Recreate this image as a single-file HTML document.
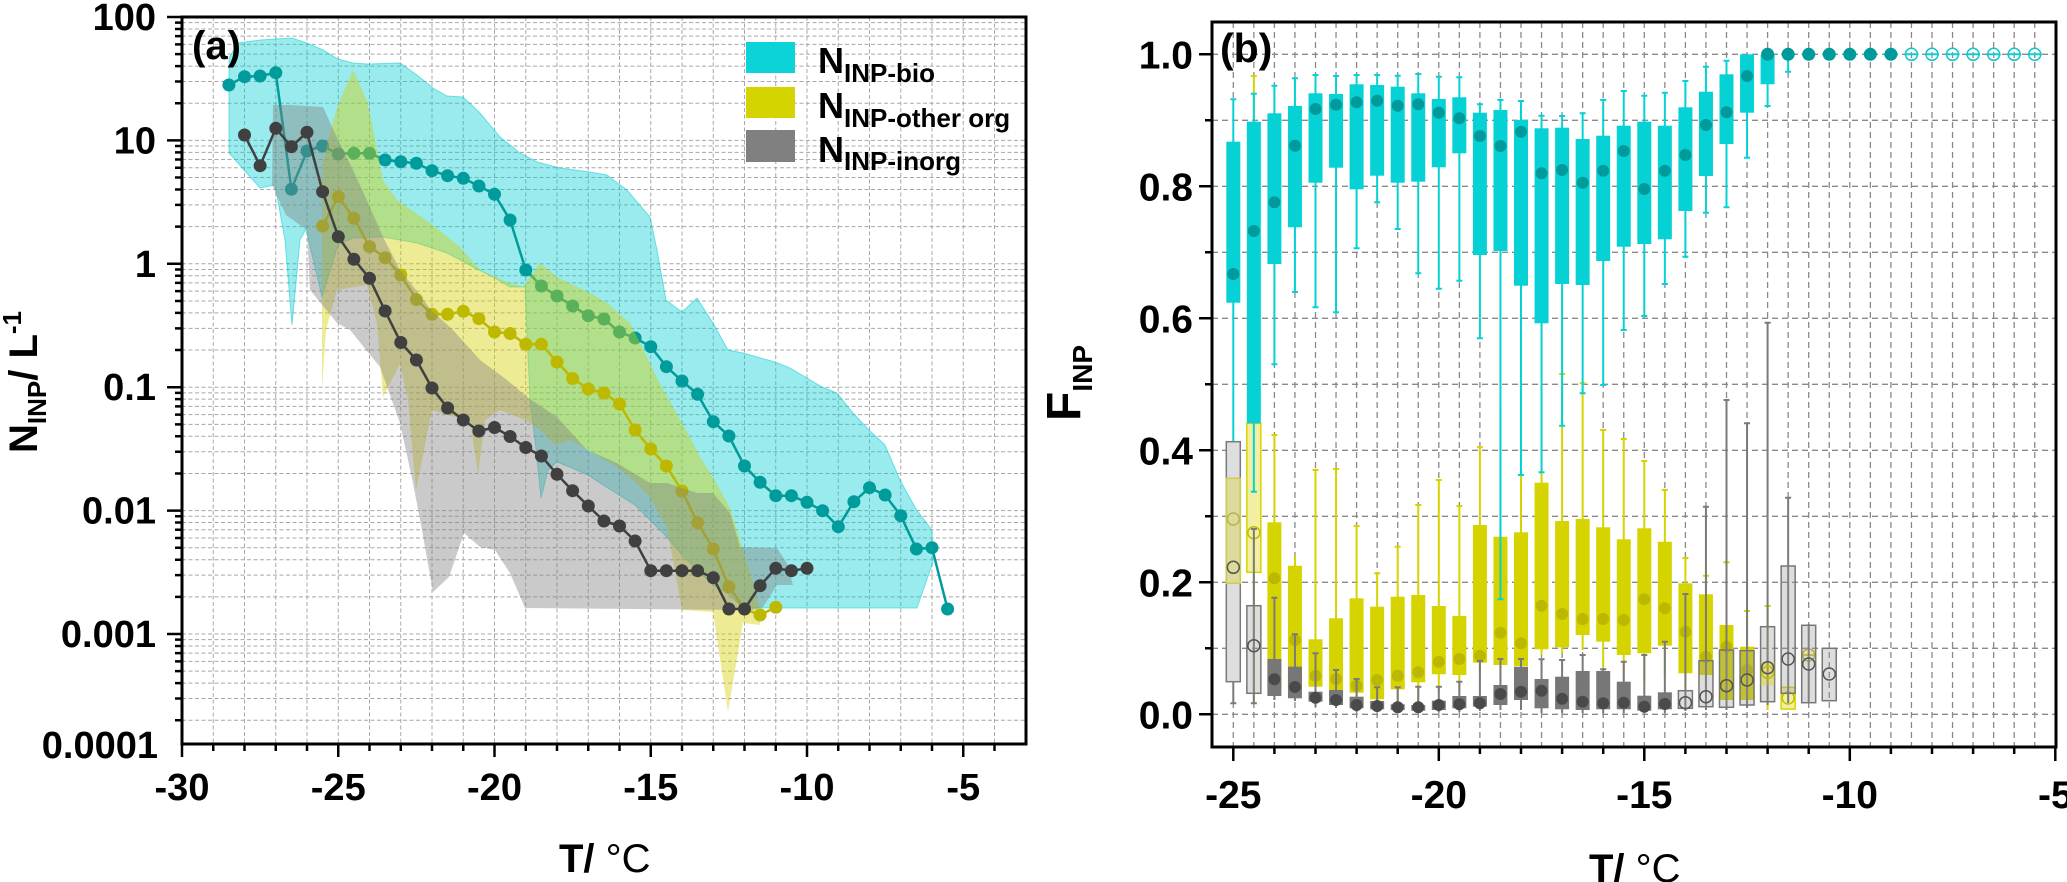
<!DOCTYPE html>
<html><head><meta charset="utf-8"><style>html,body{margin:0;padding:0;background:#fff}svg{display:block}</style></head>
<body>
<svg width="2067" height="882" viewBox="0 0 2067 882" xmlns="http://www.w3.org/2000/svg" font-family="'Liberation Sans', Arial, sans-serif">
<defs>
<marker id="mT" viewBox="0 0 14 14" refX="7" refY="7" markerWidth="14" markerHeight="14" markerUnits="userSpaceOnUse"><circle cx="7" cy="7" r="6.5" fill="#009b9b"/></marker>
<marker id="mY" viewBox="0 0 14 14" refX="7" refY="7" markerWidth="14" markerHeight="14" markerUnits="userSpaceOnUse"><circle cx="7" cy="7" r="6.5" fill="#bdb900"/></marker>
<marker id="mG" viewBox="0 0 14 14" refX="7" refY="7" markerWidth="14" markerHeight="14" markerUnits="userSpaceOnUse"><circle cx="7" cy="7" r="6.5" fill="#404040"/></marker>
</defs>
<rect width="2067" height="882" fill="#fff"/>

<!-- ============ PANEL A ============ -->
<g stroke="#a8a8a8" stroke-width="1" stroke-dasharray="4 2.5" fill="none">
<path d="M182 22.65H1026M182 28.96H1026M182 36.12H1026M182 44.38H1026M182 54.15H1026M182 66.11H1026M182 81.52H1026M182 103.26H1026M182 140.4H1026M182 146.05H1026M182 152.36H1026M182 159.52H1026M182 167.78H1026M182 177.55H1026M182 189.51H1026M182 204.92H1026M182 226.66H1026M182 263.8H1026M182 269.45H1026M182 275.76H1026M182 282.92H1026M182 291.18H1026M182 300.95H1026M182 312.91H1026M182 328.32H1026M182 350.06H1026M182 387.2H1026M182 392.85H1026M182 399.16H1026M182 406.32H1026M182 414.58H1026M182 424.35H1026M182 436.31H1026M182 451.72H1026M182 473.46H1026M182 510.6H1026M182 516.25H1026M182 522.56H1026M182 529.72H1026M182 537.98H1026M182 547.75H1026M182 559.71H1026M182 575.12H1026M182 596.86H1026M182 634H1026M182 639.65H1026M182 645.96H1026M182 653.12H1026M182 661.38H1026M182 671.15H1026M182 683.11H1026M182 698.52H1026M182 720.26H1026"/>
<path d="M213.25 17V744M244.5 17V744M275.75 17V744M307 17V744M338.25 17V744M369.5 17V744M400.75 17V744M432 17V744M463.25 17V744M494.5 17V744M525.75 17V744M557 17V744M588.25 17V744M619.5 17V744M650.75 17V744M682 17V744M713.25 17V744M744.5 17V744M775.75 17V744M807 17V744M838.25 17V744M869.5 17V744M900.75 17V744M932 17V744M963.25 17V744M994.5 17V744"/>
</g>

<!-- bio fill + line -->
<polygon fill="#00ced1" fill-opacity="0.4" stroke="#00ced1" stroke-opacity="0.5" stroke-width="1" points="229,58 238,43 260,40 275,39 292,38 307,43 323,50 338,59 353,63 368,64 400,63 417,75 433,88 447,96 463,97 480,113 500,137 520,153 537,162 560,168 590,172 607,175 627,190 650,217 657,250 666,300 682,312 697,298 713,323 728,350 743,353 775,362 790,368 822,387 837,393 853,413 869,430 885,445 900,480 916,509 932,530 933,562 917,608 743,608 730,595 713,585 697,570 682,555 665,535 650,520 635,505 619,495 603,485 588,475 572,468 557,462 548,470 541,498 535,440 530,400 525,287 510,287 493,277 473,267 447,253 417,243 383,237 353,238 338,245 322,297 306,229 300,240 292,325 285,240 275,185 260,188 229,153"/>
<polyline fill="none" stroke="#009b9b" stroke-width="2.5" marker-start="url(#mT)" marker-mid="url(#mT)" marker-end="url(#mT)" points="228.9,85 244.5,76.7 260.1,76 275.8,72.7 291.4,189.3 307,151 322.6,146 338.3,154 353.9,153.3 369.5,153.3 385.1,160 400.8,161.7 416.4,163.3 432,170.7 447.6,175.7 463.3,178.3 478.9,186 494.5,194.3 510.1,220 525.8,270 541.4,286 557,296 572.6,306 588.3,315.7 603.9,319 619.5,332 635.1,338 650.8,346.7 666.4,366.7 682,381 697.6,394.3 713.3,421.7 728.9,436 744.5,466 760.1,482.3 775.8,495.7 791.4,495.7 807,502.3 822.6,510.7 838.3,526.7 853.9,501.7 869.5,487.7 885.1,495 900.8,515.7 916.4,549 932,547.7 947.6,609"/>

<!-- other org fill + line -->
<polygon fill="#d4d000" fill-opacity="0.42" points="322,165 332,125 338,105 353,70 368,103 383,180 397,200 430,223 460,247 480,270 507,282 523,287 540,263 557,277 590,293 607,303 630,323 647,357 657,378 673,407 690,437 700,457 713,477 730,508 740,540 753,583 760,610 760,625 743,623 728,712 713,612 682,610 667,527 650,497 633,480 617,467 588,450 570,440 555,445 540,430 525,420 500,410 485,420 478,474 470,420 447,415 432,410 416,490 408,400 400,364 383,397 377,323 367,285 337,290 326,330 322,389"/>
<polyline fill="none" stroke="#bdb900" stroke-width="2.5" marker-start="url(#mY)" marker-mid="url(#mY)" marker-end="url(#mY)" points="322.6,226 338.3,196.7 353.9,218.3 369.5,246.7 385.1,257.7 400.8,275 416.4,299.5 432,314.3 447.6,314.3 463.3,311.3 478.9,318.7 494.5,332 510.1,333.5 525.8,344.3 541.4,344.3 557,362 572.6,378.5 588.3,389 603.9,393 619.5,404 635.1,430 650.8,449 666.4,466 682,491 697.6,522.7 713.3,549 728.9,586.7 744.5,609 760.1,615 775.8,607.3"/>

<!-- inorg fill + line -->
<polygon fill="#808080" fill-opacity="0.42" points="272,185 273,105 290,105 323,107 338,140 353,170 369,205 383,237 400,270 416,290 431,310 453,330 480,360 507,380 527,397 557,417 587,450 617,463 650,483 667,483 697,493 713,493 730,513 740,547 777,548 787,563 793,585 777,585 763,607 753,610 525,608 510,573 495,550 480,547 464,533 449,577 433,592 422,530 413,483 400,423 380,367 350,330 337,323 310,290 307,230 286,215"/>
<polyline fill="none" stroke="#404040" stroke-width="2.5" marker-start="url(#mG)" marker-mid="url(#mG)" marker-end="url(#mG)" points="244.5,135 260.1,165.7 275.8,128.3 291.4,146.7 307,132.3 322.6,191.7 338.3,236.7 353.9,259.3 369.5,278.3 385.1,311 400.8,342.5 416.4,360 432,388 447.6,408 463.3,420 478.9,431 494.5,427.5 510.1,436.5 525.8,447.5 541.4,456 557,474.3 572.6,490.7 588.3,506 603.9,521 619.5,526 635.1,541 650.8,570.7 666.4,570.7 682,570.7 697.6,570.7 713.3,577.7 728.9,609 744.5,609 760.1,585.7 775.8,568.3 791.4,570.7 807,568.3"/>

<!-- legend -->
<rect x="746" y="42" width="49" height="31" fill="#0bd3d8"/>
<rect x="746" y="87" width="49" height="31" fill="#d4d400"/>
<rect x="746" y="130" width="49" height="32" fill="#808080"/>
<g font-weight="bold" fill="#000">
<text x="818" y="73" font-size="36">N<tspan font-size="26" dy="9">INP-bio</tspan></text>
<text x="818" y="118" font-size="36">N<tspan font-size="26" dy="9">INP-other org</tspan></text>
<text x="818" y="162" font-size="36">N<tspan font-size="26" dy="8">INP-inorg</tspan></text>
</g>

<!-- frame & ticks A -->
<rect x="182" y="17" width="844" height="727" fill="none" stroke="#000" stroke-width="3"/>
<path stroke="#000" stroke-width="2.5" fill="none" d="M182 744v13M213.25 744v7M244.5 744v7M275.75 744v7M307 744v7M338.25 744v13M369.5 744v7M400.75 744v7M432 744v7M463.25 744v7M494.5 744v13M525.75 744v7M557 744v7M588.25 744v7M619.5 744v7M650.75 744v13M682 744v7M713.25 744v7M744.5 744v7M775.75 744v7M807 744v13M838.25 744v7M869.5 744v7M900.75 744v7M932 744v7M963.25 744v13M994.5 744v7
M182 17h-15M182 140.4h-15M182 263.8h-15M182 387.2h-15M182 510.6h-15M182 634h-15
M182 22.65h-7M182 28.96h-7M182 36.12h-7M182 44.38h-7M182 54.15h-7M182 66.11h-7M182 81.52h-7M182 103.26h-7
M182 146.05h-7M182 152.36h-7M182 159.52h-7M182 167.78h-7M182 177.55h-7M182 189.51h-7M182 204.92h-7M182 226.66h-7
M182 269.45h-7M182 275.76h-7M182 282.92h-7M182 291.18h-7M182 300.95h-7M182 312.91h-7M182 328.32h-7M182 350.06h-7
M182 392.85h-7M182 399.16h-7M182 406.32h-7M182 414.58h-7M182 424.35h-7M182 436.31h-7M182 451.72h-7M182 473.46h-7
M182 516.25h-7M182 522.56h-7M182 529.72h-7M182 537.98h-7M182 547.75h-7M182 559.71h-7M182 575.12h-7M182 596.86h-7
M182 639.65h-7M182 645.96h-7M182 653.12h-7M182 661.38h-7M182 671.15h-7M182 683.11h-7M182 698.52h-7M182 720.26h-7"/>

<g font-weight="bold" font-size="38" fill="#000" text-anchor="end">
<text x="156" y="30">100</text>
<text x="156" y="153.4">10</text>
<text x="156" y="276.8">1</text>
<text x="156" y="400.2">0.1</text>
<text x="156" y="523.6">0.01</text>
<text x="156" y="647">0.001</text>
<text x="158" y="758">0.0001</text>
</g>
<g font-weight="bold" font-size="38" fill="#000" text-anchor="middle">
<text x="182" y="800">-30</text>
<text x="338.25" y="800">-25</text>
<text x="494.5" y="800">-20</text>
<text x="650.75" y="800">-15</text>
<text x="807" y="800">-10</text>
<text x="963.25" y="800">-5</text>
</g>
<text x="192" y="59" font-size="40" font-weight="bold">(a)</text>
<text x="559" y="872" font-size="40" font-weight="bold">T/ <tspan font-weight="normal">°C</tspan></text>
<text transform="translate(37,382) rotate(-90)" text-anchor="middle" font-size="40" font-weight="bold">N<tspan font-size="26" dy="9">INP</tspan><tspan dy="-9">/ L</tspan><tspan font-size="26" dy="-16">-1</tspan></text>

<!-- ============ PANEL B ============ -->
<g stroke="#8a8a8a" stroke-width="1.3" stroke-dasharray="6 4" fill="none">
<path d="M1212 54.3H2056M1212 120.3H2056M1212 186.3H2056M1212 252.3H2056M1212 318.3H2056M1212 384.3H2056M1212 450.3H2056M1212 516.3H2056M1212 582.3H2056M1212 648.3H2056M1212 714.3H2056"/>
<path d="M1233.3 22V747M1253.85 22V747M1274.4 22V747M1294.95 22V747M1315.5 22V747M1336.05 22V747M1356.6 22V747M1377.15 22V747M1397.7 22V747M1418.25 22V747M1438.8 22V747M1459.35 22V747M1479.9 22V747M1500.45 22V747M1521 22V747M1541.55 22V747M1562.1 22V747M1582.65 22V747M1603.2 22V747M1623.75 22V747M1644.3 22V747M1664.85 22V747M1685.4 22V747M1705.95 22V747M1726.5 22V747M1747.05 22V747M1767.6 22V747M1788.15 22V747M1808.7 22V747M1829.25 22V747M1849.8 22V747M1870.35 22V747M1890.9 22V747M1911.45 22V747M1932 22V747M1952.55 22V747M1973.1 22V747M1993.65 22V747M2014.2 22V747M2034.75 22V747"/>
</g>

<!-- yellow (other org) -->
<g>
<path stroke="#d6d400" stroke-width="2" fill="none" d="M1253.85 76V703M1274.4 435V700M1294.95 556V700M1315.5 470V705M1336.05 469V708M1356.6 526V708M1377.15 573.3V708M1397.7 546.7V705M1418.25 505V705M1438.8 480V691M1459.35 506V690M1479.9 447.3V675M1500.45 405V680M1521 415V680M1541.55 420V655M1562.1 374V653.3M1582.65 383.3V650M1603.2 430V670M1623.75 439V678.3M1644.3 461V681.7M1664.85 490V676.7M1685.4 558V688.3M1705.95 575.7V688M1726.5 562.3V700M1747.05 611V705M1767.6 606V710
M1250.85 76h6M1271.4 435h6M1312.5 470h6M1333.05 469h6M1353.6 526h6M1374.15 573.3h6M1394.7 546.7h6M1415.25 505h6M1435.8 480h6M1456.35 506h6M1476.9 447.3h6M1559.1 374h6M1579.65 383.3h6M1600.2 430h6M1620.75 439h6M1641.3 461h6M1661.85 490h6M1682.4 558h6M1702.95 575.7h6M1723.5 562.3h6M1744.05 611h6M1764.6 606h6"/>
<g fill="#d6d400">
<rect x="1267.4" y="522.3" width="14" height="167.7"/>
<rect x="1287.95" y="565.7" width="14" height="124.3"/>
<rect x="1308.5" y="639.3" width="14" height="47.4"/>
<rect x="1329.05" y="618.3" width="14" height="73.7"/>
<rect x="1349.6" y="598.3" width="14" height="94.4"/>
<rect x="1370.15" y="606.7" width="14" height="92.6"/>
<rect x="1390.7" y="596.7" width="14" height="92.6"/>
<rect x="1411.25" y="595" width="14" height="87.3"/>
<rect x="1431.8" y="606" width="14" height="68.3"/>
<rect x="1452.35" y="616" width="14" height="59"/>
<rect x="1472.9" y="525" width="14" height="137.7"/>
<rect x="1493.45" y="536.7" width="14" height="128.3"/>
<rect x="1514" y="532.3" width="14" height="133.7"/>
<rect x="1534.55" y="482.7" width="14" height="166.6"/>
<rect x="1555.1" y="521" width="14" height="126.3"/>
<rect x="1575.65" y="519" width="14" height="116"/>
<rect x="1596.2" y="527.3" width="14" height="114.4"/>
<rect x="1616.75" y="539.3" width="14" height="115.7"/>
<rect x="1637.3" y="528.3" width="14" height="125"/>
<rect x="1657.85" y="541.7" width="14" height="104"/>
<rect x="1678.4" y="583.3" width="14" height="90"/>
<rect x="1698.95" y="594.3" width="14" height="80.7"/>
<rect x="1719.5" y="625" width="14" height="75"/>
<rect x="1740.05" y="646.7" width="14" height="53.3"/>
</g>
<g fill="#bcb800">
<circle cx="1274.4" cy="578.3" r="6"/><circle cx="1294.95" cy="640" r="6"/><circle cx="1315.5" cy="675.7" r="6"/><circle cx="1336.05" cy="679" r="6"/><circle cx="1356.6" cy="685.7" r="6"/><circle cx="1377.15" cy="680" r="6"/><circle cx="1397.7" cy="675.7" r="6"/><circle cx="1418.25" cy="672.3" r="6"/><circle cx="1438.8" cy="661.7" r="6"/><circle cx="1459.35" cy="659" r="6"/><circle cx="1479.9" cy="655.7" r="6"/><circle cx="1500.45" cy="632.7" r="6"/><circle cx="1521" cy="643.3" r="6"/><circle cx="1541.55" cy="605.7" r="6"/><circle cx="1562.1" cy="614" r="6"/><circle cx="1582.65" cy="619" r="6"/><circle cx="1603.2" cy="619" r="6"/><circle cx="1623.75" cy="620" r="6"/><circle cx="1644.3" cy="599.3" r="6"/><circle cx="1664.85" cy="608.3" r="6"/><circle cx="1685.4" cy="631.7" r="6"/><circle cx="1705.95" cy="656.7" r="6"/><circle cx="1726.5" cy="646.7" r="6"/><circle cx="1747.05" cy="670" r="6"/>
</g>
<rect x="1246.85" y="423.3" width="14" height="149" fill="#f3efa2" stroke="#d6d400" stroke-width="1.5"/>
<circle cx="1253.85" cy="532.7" r="6" fill="none" stroke="#c2be00" stroke-width="1.5"/>
<rect x="1781.15" y="687.3" width="14" height="21.7" fill="#f3efa2" stroke="#d6d400" stroke-width="1.5"/>
<circle cx="1788.15" cy="698" r="6" fill="none" stroke="#c2be00" stroke-width="1.5"/>
<path d="M1801.7 655h14" stroke="#d6d400" stroke-width="2"/>
<circle cx="1808.7" cy="655" r="6" fill="none" stroke="#c2be00" stroke-width="1.5"/>
</g>

<!-- cyan (bio) -->
<g>
<path stroke="#06d2d6" stroke-width="2" fill="none" d="M1233.3 99.3V473M1253.85 93.7V491.7M1274.4 85.7V364.3M1294.95 78.3V292M1315.5 75V307.3M1336.05 76V312.3M1356.6 75V248.3M1377.15 75V202.3M1397.7 75.7V229M1418.25 74V273.3M1438.8 76.7V288.7M1459.35 77.3V280.7M1479.9 104.3V338.3M1500.45 100V599.3M1521 101V475M1541.55 115.7V472.3M1562.1 116V425.7M1582.65 113.3V393.3M1603.2 100V385M1623.75 91V330M1644.3 95.7V316M1664.85 92.7V284M1685.4 81V256.7M1705.95 66.7V212.7M1726.5 60.7V207.3M1747.05 54.3V157.7M1767.6 54.3V106M1788.15 54.3V71.7
M1230.3 99.3h6M1230.3 473h6M1250.85 93.7h6M1250.85 491.7h6M1271.4 85.7h6M1271.4 364.3h6M1291.95 78.3h6M1291.95 292h6M1312.5 75h6M1312.5 307.3h6M1333.05 76h6M1333.05 312.3h6M1353.6 75h6M1353.6 248.3h6M1374.15 75h6M1374.15 202.3h6M1394.7 75.7h6M1394.7 229h6M1415.25 74h6M1415.25 273.3h6M1435.8 76.7h6M1435.8 288.7h6M1456.35 77.3h6M1456.35 280.7h6M1476.9 104.3h6M1476.9 338.3h6M1497.45 100h6M1497.45 599.3h6M1518 101h6M1518 475h6M1538.55 115.7h6M1538.55 472.3h6M1559.1 116h6M1559.1 425.7h6M1579.65 113.3h6M1579.65 393.3h6M1600.2 100h6M1600.2 385h6M1620.75 91h6M1620.75 330h6M1641.3 95.7h6M1641.3 316h6M1661.85 92.7h6M1661.85 284h6M1682.4 81h6M1682.4 256.7h6M1702.95 66.7h6M1702.95 212.7h6M1723.5 60.7h6M1723.5 207.3h6M1744.05 157.7h6M1764.6 106h6M1785.15 71.7h6
M1781.15 54.3h14M1801.7 54.3h14M1822.25 54.3h14M1842.8 54.3h14M1863.35 54.3h14M1883.9 54.3h14M1904.45 54.3h14M1925 54.3h14M1945.55 54.3h14M1966.1 54.3h14M1986.65 54.3h14M2007.2 54.3h14M2027.75 54.3h14"/>
<g fill="#06d2d6">
<rect x="1226.3" y="141.7" width="14" height="161"/>
<rect x="1246.85" y="121.7" width="14" height="301.6"/>
<rect x="1267.4" y="113.3" width="14" height="150.7"/>
<rect x="1287.95" y="106" width="14" height="121.3"/>
<rect x="1308.5" y="93.3" width="14" height="89.4"/>
<rect x="1329.05" y="94" width="14" height="73.7"/>
<rect x="1349.6" y="84.3" width="14" height="105"/>
<rect x="1370.15" y="85" width="14" height="90.7"/>
<rect x="1390.7" y="86.7" width="14" height="96"/>
<rect x="1411.25" y="93.3" width="14" height="88.4"/>
<rect x="1431.8" y="99" width="14" height="68.3"/>
<rect x="1452.35" y="97.3" width="14" height="56"/>
<rect x="1472.9" y="112.7" width="14" height="142.3"/>
<rect x="1493.45" y="110" width="14" height="141"/>
<rect x="1514" y="120" width="14" height="165.7"/>
<rect x="1534.55" y="128.3" width="14" height="195"/>
<rect x="1555.1" y="127.7" width="14" height="156.3"/>
<rect x="1575.65" y="139" width="14" height="146"/>
<rect x="1596.2" y="135.7" width="14" height="125.3"/>
<rect x="1616.75" y="125.7" width="14" height="121"/>
<rect x="1637.3" y="121.7" width="14" height="122.3"/>
<rect x="1657.85" y="125.7" width="14" height="113.6"/>
<rect x="1678.4" y="107.3" width="14" height="103.7"/>
<rect x="1698.95" y="91.7" width="14" height="84.3"/>
<rect x="1719.5" y="74.3" width="14" height="69.7"/>
<rect x="1740.05" y="54.3" width="14" height="58.4"/>
<rect x="1760.6" y="55" width="14" height="29.3"/>
</g>
<g fill="#009a9a">
<circle cx="1233.3" cy="274" r="6"/><circle cx="1253.85" cy="231" r="6"/><circle cx="1274.4" cy="202.3" r="6"/><circle cx="1294.95" cy="145.7" r="6"/><circle cx="1315.5" cy="109" r="6"/><circle cx="1336.05" cy="104.7" r="6"/><circle cx="1356.6" cy="102.3" r="6"/><circle cx="1377.15" cy="100.7" r="6"/><circle cx="1397.7" cy="105.7" r="6"/><circle cx="1418.25" cy="104.3" r="6"/><circle cx="1438.8" cy="112.7" r="6"/><circle cx="1459.35" cy="118.3" r="6"/><circle cx="1479.9" cy="136" r="6"/><circle cx="1500.45" cy="146" r="6"/><circle cx="1521" cy="131.7" r="6"/><circle cx="1541.55" cy="173.3" r="6"/><circle cx="1562.1" cy="170" r="6"/><circle cx="1582.65" cy="182.7" r="6"/><circle cx="1603.2" cy="170.7" r="6"/><circle cx="1623.75" cy="151" r="6"/><circle cx="1644.3" cy="189" r="6"/><circle cx="1664.85" cy="170.7" r="6"/><circle cx="1685.4" cy="155" r="6"/><circle cx="1705.95" cy="125" r="6"/><circle cx="1726.5" cy="112.3" r="6"/><circle cx="1747.05" cy="76" r="6"/>
<circle cx="1767.6" cy="54.3" r="6.5"/><circle cx="1788.15" cy="54.3" r="6.5"/><circle cx="1808.7" cy="54.3" r="6.5"/><circle cx="1829.25" cy="54.3" r="6.5"/><circle cx="1849.8" cy="54.3" r="6.5"/><circle cx="1870.35" cy="54.3" r="6.5"/><circle cx="1890.9" cy="54.3" r="6.5"/>
</g>
<g fill="none" stroke="#16c6ca" stroke-width="1.5">
<circle cx="1911.45" cy="54.3" r="6"/><circle cx="1932" cy="54.3" r="6"/><circle cx="1952.55" cy="54.3" r="6"/><circle cx="1973.1" cy="54.3" r="6"/><circle cx="1993.65" cy="54.3" r="6"/><circle cx="2014.2" cy="54.3" r="6"/><circle cx="2034.75" cy="54.3" r="6"/>
</g>
</g>

<!-- gray (inorg) -->
<g>
<rect x="1226.3" y="441.7" width="14" height="240" fill="#dedede" stroke="#7a7a7a" stroke-width="1.5"/>
<rect x="1226.3" y="478.3" width="14" height="105" fill="#d6d400" fill-opacity="0.3" stroke="#cfcb50" stroke-width="1.5"/>
<circle cx="1233.3" cy="519" r="6" fill="none" stroke="#b8b450" stroke-width="1.5"/>
<circle cx="1233.3" cy="567.3" r="6" fill="none" stroke="#555" stroke-width="1.5"/>
<path stroke="#7a7a7a" stroke-width="2" fill="none" d="M1233.3 681.7V703.3M1253.85 529V703.3M1274.4 597.7V700M1294.95 634.3V701M1315.5 653.3V707M1336.05 670V708M1356.6 679V712M1377.15 687.3V712M1397.7 687.3V712M1418.25 686.7V712M1438.8 686.7V712M1459.35 681.7V712M1479.9 661V711M1500.45 659V710M1521 659V710M1541.55 659.3V713M1562.1 660V713M1582.65 655V713M1603.2 669.3V713M1623.75 661.7V713M1644.3 655V713M1664.85 641.7V713M1685.4 594V711M1705.95 506.7V710M1726.5 400V710M1747.05 423.3V708M1767.6 322.7V705M1788.15 497.7V703M1808.7 624V703
M1230.3 703.3h6M1250.85 529h6M1250.85 703.3h6M1271.4 597.7h6M1291.95 634.3h6M1312.5 653.3h6M1333.05 670h6M1353.6 679h6M1374.15 687.3h6M1394.7 687.3h6M1415.25 686.7h6M1435.8 686.7h6M1456.35 681.7h6M1476.9 661h6M1497.45 659h6M1518 659h6M1538.55 659.3h6M1559.1 660h6M1579.65 655h6M1600.2 669.3h6M1620.75 661.7h6M1641.3 655h6M1661.85 641.7h6M1682.4 594h6M1702.95 506.7h6M1723.5 400h6M1744.05 423.3h6M1764.6 322.7h6M1785.15 497.7h6"/>
<g fill="#777">
<rect x="1267.4" y="659" width="14" height="37"/>
<rect x="1287.95" y="666.7" width="14" height="31.6"/>
<rect x="1308.5" y="691.7" width="14" height="10"/>
<rect x="1329.05" y="690" width="14" height="15"/>
<rect x="1349.6" y="696.7" width="14" height="11.6"/>
<rect x="1370.15" y="701" width="14" height="8.3"/>
<rect x="1390.7" y="704.3" width="14" height="5.7"/>
<rect x="1411.25" y="705" width="14" height="5.7"/>
<rect x="1431.8" y="700.7" width="14" height="9.3"/>
<rect x="1452.35" y="696" width="14" height="12.3"/>
<rect x="1472.9" y="696" width="14" height="10.7"/>
<rect x="1493.45" y="685" width="14" height="20"/>
<rect x="1514" y="666.7" width="14" height="33.3"/>
<rect x="1534.55" y="679" width="14" height="29.3"/>
<rect x="1555.1" y="676.7" width="14" height="32.6"/>
<rect x="1575.65" y="671" width="14" height="39"/>
<rect x="1596.2" y="671" width="14" height="38.3"/>
<rect x="1616.75" y="681.7" width="14" height="27.6"/>
<rect x="1637.3" y="695.7" width="14" height="15"/>
<rect x="1657.85" y="692.3" width="14" height="17"/>
</g>
<g fill="#4a4a4a">
<circle cx="1274.4" cy="679.3" r="6"/><circle cx="1294.95" cy="687" r="6"/><circle cx="1315.5" cy="697.7" r="6"/><circle cx="1336.05" cy="700" r="6"/><circle cx="1356.6" cy="705" r="6"/><circle cx="1377.15" cy="706" r="6"/><circle cx="1397.7" cy="707.3" r="6"/><circle cx="1418.25" cy="707.3" r="6"/><circle cx="1438.8" cy="705" r="6"/><circle cx="1459.35" cy="704.3" r="6"/><circle cx="1479.9" cy="703.3" r="6"/><circle cx="1500.45" cy="694" r="6"/><circle cx="1521" cy="691.7" r="6"/><circle cx="1541.55" cy="690.7" r="6"/><circle cx="1562.1" cy="698.7" r="6"/><circle cx="1582.65" cy="701.7" r="6"/><circle cx="1603.2" cy="703.3" r="6"/><circle cx="1623.75" cy="702.7" r="6"/><circle cx="1644.3" cy="706.7" r="6"/><circle cx="1664.85" cy="704" r="6"/>
</g>
<g fill="#969696" fill-opacity="0.32" stroke="#777" stroke-width="1.5">
<rect x="1246.85" y="605.7" width="14" height="87.6"/>
<rect x="1678.4" y="690.7" width="14" height="17.6"/>
<rect x="1698.95" y="660.7" width="14" height="46"/>
<rect x="1719.5" y="650" width="14" height="57.3"/>
<rect x="1740.05" y="650.7" width="14" height="54.3"/>
<rect x="1760.6" y="626.7" width="14" height="75"/>
<rect x="1781.15" y="566" width="14" height="127.3"/>
<rect x="1801.7" y="625.3" width="14" height="77.4"/>
<rect x="1822.25" y="648.3" width="14" height="52.4"/>
</g>
<rect x="1760.6" y="661.7" width="14" height="24" fill="#d6d400" fill-opacity="0.35"/>
<circle cx="1767.6" cy="672.3" r="6" fill="none" stroke="#c2be00" stroke-width="1.5"/>
<g fill="none" stroke="#555" stroke-width="1.5">
<circle cx="1253.85" cy="645.7" r="6"/><circle cx="1685.4" cy="702.7" r="6"/><circle cx="1705.95" cy="696.7" r="6"/><circle cx="1726.5" cy="685.7" r="6"/><circle cx="1747.05" cy="680" r="6"/><circle cx="1767.6" cy="667.7" r="6"/><circle cx="1788.15" cy="659" r="6"/><circle cx="1808.7" cy="664" r="6"/><circle cx="1829.25" cy="674" r="6"/>
</g>
</g>

<!-- frame & ticks B -->
<rect x="1212" y="22" width="844" height="725" fill="none" stroke="#000" stroke-width="3"/>
<path stroke="#000" stroke-width="2.5" fill="none" d="M1212 54.3h-13M1212 186.3h-13M1212 318.3h-13M1212 450.3h-13M1212 582.3h-13M1212 714.3h-13M1212 120.3h-7M1212 252.3h-7M1212 384.3h-7M1212 516.3h-7M1212 648.3h-7
M1233.3 747v14M1274.4 747v7M1315.5 747v7M1356.6 747v7M1397.7 747v7M1438.8 747v14M1479.9 747v7M1521 747v7M1562.1 747v7M1603.2 747v7M1644.3 747v14M1685.4 747v7M1726.5 747v7M1767.6 747v7M1808.7 747v7M1849.8 747v14M1890.9 747v7M1932 747v7M1973.1 747v7M2014.2 747v7M2055.3 747v14"/>
<g font-weight="bold" font-size="39" fill="#000" text-anchor="end">
<text x="1193" y="68.3">1.0</text>
<text x="1193" y="200.3">0.8</text>
<text x="1193" y="332.3">0.6</text>
<text x="1193" y="464.3">0.4</text>
<text x="1193" y="596.3">0.2</text>
<text x="1193" y="728.3">0.0</text>
</g>
<g font-weight="bold" font-size="39" fill="#000" text-anchor="middle">
<text x="1233.3" y="808">-25</text>
<text x="1438.8" y="808">-20</text>
<text x="1644.3" y="808">-15</text>
<text x="1849.8" y="808">-10</text>
<text x="2055.3" y="808">-5</text>
</g>
<text x="1220" y="62" font-size="41" font-weight="bold">(b)</text>
<text x="1589" y="882" font-size="40" font-weight="bold">T/ <tspan font-weight="normal">°C</tspan></text>
<text transform="translate(1080,383) rotate(-90)" text-anchor="middle" font-size="48" font-weight="bold">F<tspan font-size="28" dy="12">INP</tspan></text>
</svg>
</body></html>
